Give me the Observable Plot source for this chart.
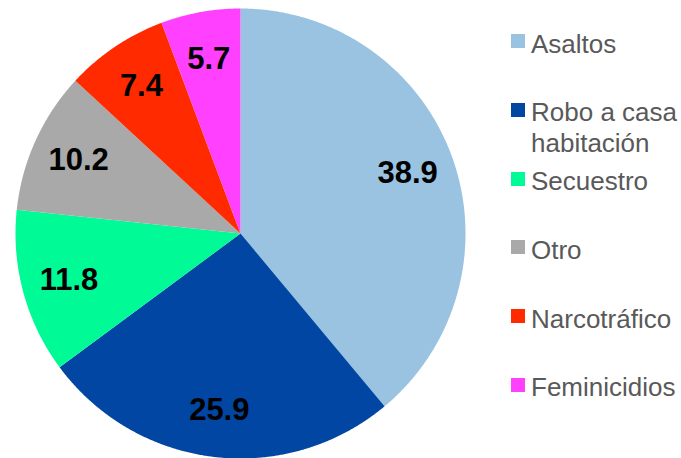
<!DOCTYPE html>
<html>
<head>
<meta charset="utf-8">
<script src="https://cdn.jsdelivr.net/npm/d3@7"></script>
<script src="https://cdn.jsdelivr.net/npm/@observablehq/plot@0.6"></script>
<style>
  html, body { margin: 0; padding: 0; background: #fff; }
  #wrap { position: relative; width: 681px; height: 458px; overflow: hidden; font-family: Arial, "Liberation Sans", sans-serif; }
  #legend { position: absolute; left: 511px; top: 28.5px; }
  .item { position: relative; height: 68.8px; }
  .sw { position: absolute; left: 0; top: 5.5px; width: 14px; height: 14px; }
  .lb { position: absolute; left: 20px; top: 0; font-size: 26px; line-height: 31px; color: #595959; white-space: nowrap; }
</style>
</head>
<body>
<div id="wrap"><div id="chart"></div><div id="legend"></div></div>
<script>
const categories = ["Asaltos", "Robo a casa habitación", "Secuestro", "Otro", "Narcotráfico", "Feminicidios"];
const values = [38.9, 25.9, 11.8, 10.2, 7.4, 5.7];
const colors = ["#99c3e1", "#0046a2", "#00fa96", "#a9a9a9", "#ff2a00", "#ff40ff"];
const legendLabels = [["Asaltos"], ["Robo a casa", "habitación"], ["Secuestro"], ["Otro"], ["Narcotráfico"], ["Feminicidios"]];

const data = categories.map((name, i) => ({name, value: values[i]}));
const arcs = d3.pie().sort(null).value(d => d.value)(data);

// polygon points of each slice (angle measured clockwise from 12 o'clock)
const pts = [];
arcs.forEach(a => {
  const name = a.data.name;
  pts.push({name, x: 0, y: 0});
  const n = Math.max(2, Math.ceil((a.endAngle - a.startAngle) / 0.005));
  for (let k = 0; k <= n; k++) {
    const t = a.startAngle + (a.endAngle - a.startAngle) * k / n;
    pts.push({name, x: Math.sin(t), y: Math.cos(t)});
  }
  pts.push({name, x: 0, y: 0});
});

const labelR = 0.79;
const labels = arcs.map(a => {
  const m = (a.startAngle + a.endAngle) / 2;
  return {text: a.data.value.toFixed(1), x: labelR * Math.sin(m), y: labelR * Math.cos(m)};
});

const chart = Plot.plot({
  width: 681,
  height: 458,
  marginLeft: 15,
  marginRight: 216,
  marginTop: 8,
  marginBottom: 0,
  x: {domain: [-1, 1], axis: null},
  y: {domain: [-1, 1], axis: null},
  color: {domain: categories, range: colors},
  style: {background: "transparent", overflow: "visible"},
  marks: [
    Plot.line(pts, {x: "x", y: "y", z: "name", fill: "name", stroke: "none", curve: "linear-closed"}),
    Plot.text(labels, {x: "x", y: "y", text: "text", fill: "black", fontSize: 31, fontWeight: "bold", fontFamily: "Arial, 'Liberation Sans', sans-serif"})
  ]
});
document.getElementById("chart").appendChild(chart);

const legend = document.getElementById("legend");
categories.forEach((c, i) => {
  const item = document.createElement("div");
  item.className = "item";
  const sw = document.createElement("div");
  sw.className = "sw";
  sw.style.background = colors[i];
  const lb = document.createElement("div");
  lb.className = "lb";
  lb.innerHTML = legendLabels[i].join("<br>");
  item.appendChild(sw);
  item.appendChild(lb);
  legend.appendChild(item);
});
</script>
</body>
</html>
